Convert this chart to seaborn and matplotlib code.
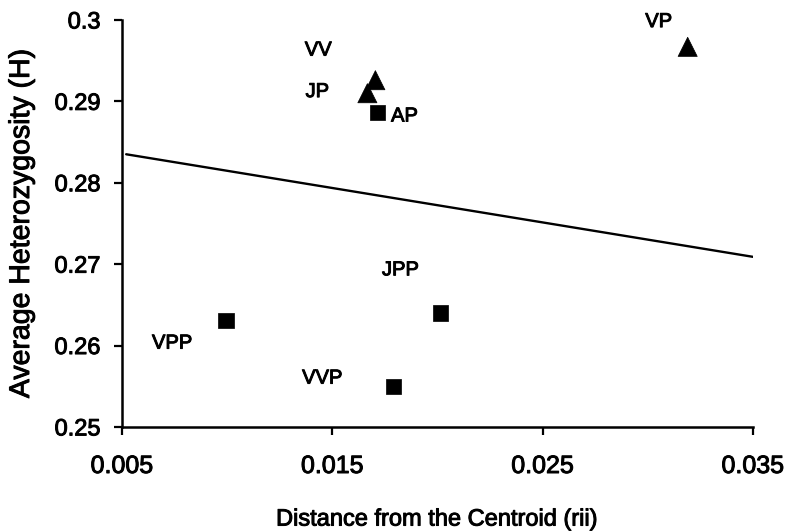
import matplotlib
matplotlib.use("Agg")
import matplotlib.pyplot as plt
import matplotlib.patheffects as pe
import seaborn as sns
import pandas as pd

# Data
populations = ["VP", "VV", "JP", "AP", "VPP", "JPP", "VVP"]
distance = [0.0319, 0.01705, 0.01667, 0.01714, 0.00995, 0.02014, 0.0179]
heterozygosity = [0.2967, 0.2926, 0.2910, 0.2886, 0.2631, 0.2640, 0.2550]
group = ["tri", "tri", "tri", "sq", "sq", "sq", "sq"]

label_x = [0.03052, 0.01433, 0.01429, 0.01843, 0.00738, 0.01824, 0.01452]
label_y = [0.2998, 0.2963, 0.2912, 0.2882, 0.2603, 0.2693, 0.2560]

trend_x = [0.0052, 0.0350]
trend_y = [0.2835, 0.2709]

xticks = [0.005, 0.015, 0.025, 0.035]
xtick_labels = ["0.005", "0.015", "0.025", "0.035"]
yticks = [0.25, 0.26, 0.27, 0.28, 0.29, 0.30]
ytick_labels = ["0.25", "0.26", "0.27", "0.28", "0.29", "0.3"]

sns.set_theme(style="ticks", rc={"text.color": "black", "axes.labelcolor": "black",
                                 "xtick.color": "black", "ytick.color": "black",
                                 "axes.edgecolor": "black"})
plt.rcParams["font.family"] = ["Liberation Sans", "DejaVu Sans"]

heavy = [pe.withStroke(linewidth=0.7, foreground="black")]

df = pd.DataFrame({"x": distance, "y": heterozygosity, "g": group, "name": populations})
tdf = pd.DataFrame({"x": trend_x, "y": trend_y})

fig = plt.figure(figsize=(7.9, 5.31), dpi=100)
ax = fig.add_axes([0.1544, 0.196, 0.7986, 0.7664])

sns.lineplot(data=tdf, x="x", y="y", ax=ax, color="black", linewidth=1.7)
sns.scatterplot(data=df, x="x", y="y", style="g", markers={"tri": "^", "sq": "s"},
                size="g", sizes={"tri": 190, "sq": 120},
                color="black", edgecolor="black", linewidth=0.5, ax=ax, legend=False)

for name, lx, ly in zip(populations, label_x, label_y):
    ax.text(lx, ly, name, ha="center", va="center", fontsize=14.5, color="black",
            path_effects=heavy)

ax.set_xlim(0.005, 0.035)
ax.set_ylim(0.25, 0.30)
ax.set_xticks(xticks)
ax.set_xticklabels(xtick_labels)
ax.set_yticks(yticks)
ax.set_yticklabels(ytick_labels)
ax.tick_params(axis="both", direction="out", length=5.5, width=1.6, colors="black")
ax.tick_params(axis="x", pad=14, labelsize=18)
ax.tick_params(axis="y", pad=10, labelsize=17)
for lbl in ax.get_xticklabels() + ax.get_yticklabels():
    lbl.set_path_effects(heavy)
for s in ["left", "bottom"]:
    ax.spines[s].set_linewidth(1.8)
    ax.spines[s].set_color("black")
sns.despine(ax=ax)
ax.set_xlabel("Distance from the Centroid (rii)", fontsize=17, labelpad=22,
              path_effects=heavy)
ax.set_ylabel("Average Heterozygosity (H)", fontsize=20.5, labelpad=14,
              path_effects=heavy)

fig.savefig("out.png", dpi=100)
